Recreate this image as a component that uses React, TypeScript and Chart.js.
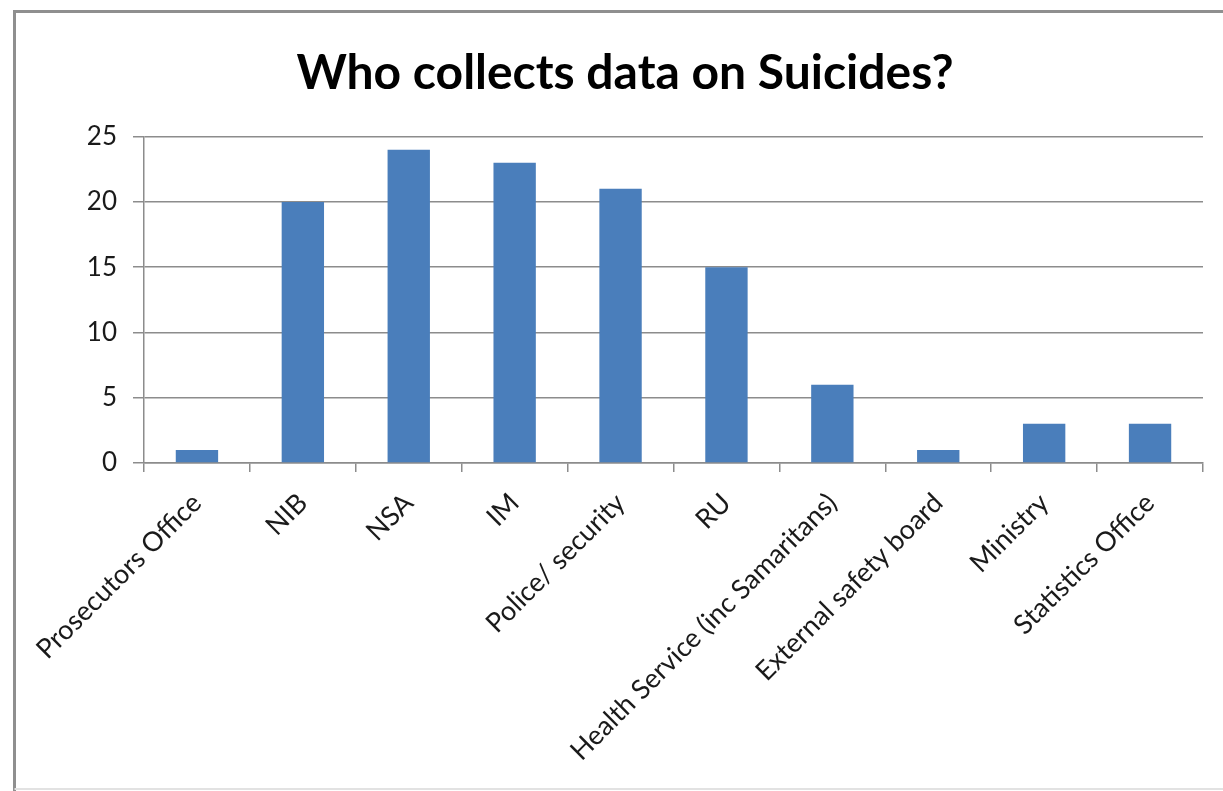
import React, { useEffect, useRef } from "react";
import { Chart, registerables } from "chart.js";

Chart.register(...registerables);

const categories: string[] = [
  "Prosecutors Office",
  "NIB",
  "NSA",
  "IM",
  "Police/ security",
  "RU",
  "Health Service (inc Samaritans)",
  "External safety board",
  "Ministry",
  "Statistics Office",
];

const counts: number[] = [1, 20, 24, 23, 21, 15, 6, 1, 3, 3];

const yTicks: number[] = [0, 5, 10, 15, 20, 25];

const titleText = "Who collects data on Suicides?";

const FONT = "Lato, 'Open Sans', sans-serif";
const GRID = "#8c8c8c";

// Outer frame around the whole chart object: strong left/top edges, faint bottom edge
const framePlugin = {
  id: "frame",
  beforeDraw(chart: any) {
    const ctx = chart.ctx;
    ctx.save();
    ctx.fillStyle = "#ffffff";
    ctx.fillRect(0, 0, chart.width, chart.height);
    ctx.strokeStyle = "#8f8f8f";
    ctx.lineWidth = 3;
    ctx.beginPath();
    ctx.moveTo(14.5, chart.height);
    ctx.lineTo(14.5, 11.5);
    ctx.lineTo(chart.width + 5, 11.5);
    ctx.stroke();
    ctx.strokeStyle = "#e2e2e2";
    ctx.lineWidth = 2;
    ctx.beginPath();
    ctx.moveTo(14.5, chart.height - 2);
    ctx.lineTo(chart.width + 5, chart.height - 2);
    ctx.stroke();
    ctx.restore();
  },
};

export default function App() {
  const canvasRef = useRef<HTMLCanvasElement | null>(null);

  useEffect(() => {
    if (!canvasRef.current) return;
    const chart = new Chart(canvasRef.current, {
      type: "bar",
      data: {
        labels: categories,
        datasets: [
          {
            label: "Count",
            data: counts,
            backgroundColor: "#4a7ebb",
            borderWidth: 0,
            barPercentage: 0.4,
            categoryPercentage: 1,
          },
        ],
      },
      options: {
        animation: false,
        responsive: false,
        maintainAspectRatio: false,
        layout: { padding: { left: 47, right: 20, top: 0, bottom: 0 } },
        plugins: {
          legend: { display: false },
          tooltip: { enabled: false },
          title: {
            display: true,
            text: titleText,
            color: "#000000",
            font: { family: FONT, size: 48, weight: "bold", lineHeight: 1.2 },
            padding: { top: 45, bottom: 34 },
          },
        },
        scales: {
          x: {
            grid: {
              display: true,
              drawOnChartArea: false,
              drawTicks: true,
              tickLength: 9,
              color: GRID,
              lineWidth: 1.5,
              offset: true,
            },
            border: { display: true, color: GRID, width: 1.5 },
            ticks: {
              color: "#1a1a1a",
              font: { family: FONT, size: 27 },
              minRotation: 45,
              maxRotation: 45,
              autoSkip: false,
              padding: 15,
            },
            afterFit(scale: any) {
              scale.paddingLeft = 0;
              scale.paddingRight = 0;
              scale.height = 791 - 463;
            },
          },
          y: {
            min: 0,
            max: 25,
            afterBuildTicks(scale: any) {
              scale.ticks = yTicks.map((v) => ({ value: v }));
            },
            grid: {
              color: GRID,
              lineWidth: 1.5,
              drawTicks: true,
              tickLength: 11,
            },
            border: { display: true, color: GRID, width: 1.5 },
            ticks: {
              color: "#1a1a1a",
              font: { family: FONT, size: 26 },
              padding: 16,
            },
            afterFit(scale: any) {
              scale.paddingTop = 0;
              scale.paddingBottom = 0;
              scale.width = 144 - 47;
            },
          },
        },
      },
      plugins: [framePlugin],
    });
    return () => chart.destroy();
  }, []);

  return (
    <div style={{ position: "absolute", left: 0, top: 0, width: 1223, height: 791 }}>
      <canvas ref={canvasRef} width={1223} height={791} style={{ display: "block" }} />
    </div>
  );
}
